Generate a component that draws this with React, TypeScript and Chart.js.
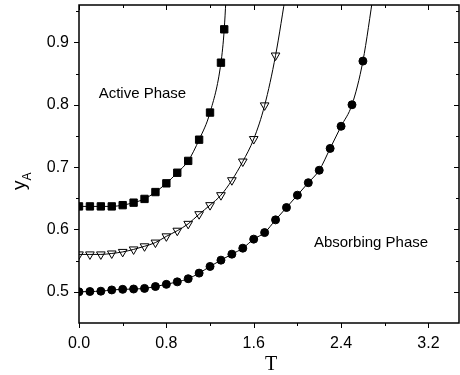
import React, { useEffect, useRef } from 'react';
import { Chart, registerables } from 'chart.js';

Chart.register(...registerables);

// Series 1: filled squares
const squareT = [0, 0.1, 0.2, 0.3, 0.4, 0.5, 0.6, 0.7, 0.8, 0.9, 1.0, 1.1, 1.2, 1.3, 1.33, 1.36];
const squareY = [0.637, 0.637, 0.637, 0.637, 0.639, 0.643, 0.649, 0.66, 0.674, 0.691, 0.71, 0.744, 0.7875, 0.8675, 0.921, 1.02];

// Series 2: open down-triangles
const triT = [0, 0.1, 0.2, 0.3, 0.4, 0.5, 0.6, 0.7, 0.8, 0.9, 1.0, 1.1, 1.2, 1.3, 1.4, 1.5, 1.6, 1.7, 1.8, 1.9];
const triY = [0.56, 0.56, 0.56, 0.5615, 0.564, 0.568, 0.573, 0.579, 0.589, 0.598, 0.609, 0.6245, 0.639, 0.655, 0.679, 0.709, 0.745, 0.799, 0.879, 0.985];

// Series 3: filled circles
const circT = [0, 0.1, 0.2, 0.3, 0.4, 0.5, 0.6, 0.7, 0.8, 0.9, 1.0, 1.1, 1.2, 1.3, 1.4, 1.5, 1.6, 1.7, 1.8, 1.9, 2.0, 2.1, 2.2, 2.3, 2.4, 2.5, 2.6, 2.7];
const circY = [0.5, 0.5005, 0.501, 0.503, 0.504, 0.5045, 0.5055, 0.5085, 0.512, 0.516, 0.521, 0.53, 0.5407, 0.5508, 0.5604, 0.57, 0.5845, 0.595, 0.6154, 0.6352, 0.655, 0.675, 0.695, 0.73, 0.7655, 0.8, 0.87, 0.9825];

const xTicks = [0, 0.8, 1.6, 2.4, 3.2];
const xMinorTicks = [0.4, 1.2, 2.0, 2.8];
const yTicks = [0.5, 0.6, 0.7, 0.8, 0.9];
const yMinorTicks = [0.55, 0.65, 0.75, 0.85, 0.95];

const X_MIN = 0;
const X_MAX = 3.48;
const Y_MIN = 0.45;
const Y_MAX = 0.96;

const phaseLabels = [
  { text: 'Active Phase', t: 0.18, y: 0.8168 },
  { text: 'Absorbing Phase', t: 2.151, y: 0.579 },
];

const SANS = "'Liberation Sans', Arial, sans-serif";
const SERIF = "'Liberation Serif', 'Times New Roman', serif";

const pts = (xs: number[], ys: number[]) => xs.map((x, i) => ({ x, y: ys[i] }));

const hideOutside = (ctx: any, r: number) => {
  const v = ctx.raw;
  return v && v.y > Y_MAX ? 0 : r;
};

const framePlugin = {
  id: 'frameAndTicks',
  afterDraw(chart: any) {
    const { ctx, chartArea, scales } = chart;
    const { left, right, top, bottom } = chartArea;
    const xs = scales.x;
    const ys = scales.y;
    ctx.save();
    ctx.strokeStyle = '#000';
    ctx.lineWidth = 1.5;
    ctx.strokeRect(left, top, right - left, bottom - top);
    ctx.lineWidth = 1;
    const MAJ = 5;
    const MIN = 3;
    ctx.beginPath();
    const xt = (v: number, len: number) => {
      const px = Math.round(xs.getPixelForValue(v)) + 0.5;
      ctx.moveTo(px, bottom);
      ctx.lineTo(px, bottom + len);
      ctx.moveTo(px, top);
      ctx.lineTo(px, top + len);
    };
    const yt = (v: number, len: number) => {
      const py = Math.round(ys.getPixelForValue(v)) + 0.5;
      ctx.moveTo(left, py);
      ctx.lineTo(left - len, py);
      ctx.moveTo(right, py);
      ctx.lineTo(right - len, py);
    };
    xTicks.forEach((v) => xt(v, MAJ));
    xMinorTicks.forEach((v) => xt(v, MIN));
    yTicks.forEach((v) => yt(v, MAJ));
    yMinorTicks.forEach((v) => yt(v, MIN));
    ctx.stroke();

    // phase labels
    ctx.fillStyle = '#000';
    ctx.font = `15px ${SANS}`;
    ctx.textAlign = 'left';
    ctx.textBaseline = 'middle';
    phaseLabels.forEach((l) => {
      ctx.fillText(l.text, xs.getPixelForValue(l.t), ys.getPixelForValue(l.y));
    });

    // x axis title
    ctx.font = `20px ${SERIF}`;
    ctx.textAlign = 'center';
    ctx.textBaseline = 'alphabetic';
    ctx.fillText('T', (left + right) / 2 + 2, 370);

    // y axis title with subscript
    ctx.save();
    ctx.translate(25, 190);
    ctx.rotate(-Math.PI / 2);
    ctx.textAlign = 'left';
    ctx.font = `19px ${SANS}`;
    ctx.fillText('y', 0, 0);
    const w = ctx.measureText('y').width;
    ctx.font = `12px ${SANS}`;
    ctx.fillText('A', w, 6);
    ctx.restore();

    ctx.restore();
  },
};

export default function App() {
  const canvasRef = useRef<HTMLCanvasElement | null>(null);

  useEffect(() => {
    const canvas = canvasRef.current;
    if (!canvas) return;
    const lineDs = (xs: number[], ys: number[]) => ({
      type: 'line' as const,
      data: pts(xs, ys),
      borderColor: '#000',
      borderWidth: 1,
      pointRadius: 0,
      showLine: true,
      cubicInterpolationMode: 'monotone' as const,
      fill: false,
    });
    const chart = new Chart(canvas, {
      type: 'scatter',
      data: {
        datasets: [
          lineDs(squareT, squareY),
          lineDs(triT, triY),
          lineDs(circT, circY),
          {
            data: pts(squareT, squareY),
            pointStyle: 'rect',
            pointRadius: (c: any) => hideOutside(c, 5.2),
            backgroundColor: '#000',
            borderColor: '#000',
            borderWidth: 1,
            showLine: false,
          },
          {
            data: pts(triT, triY),
            pointStyle: 'triangle',
            pointRotation: 180,
            pointRadius: (c: any) => hideOutside(c, 5),
            backgroundColor: '#fff',
            borderColor: '#000',
            borderWidth: 1,
            showLine: false,
          },
          {
            data: pts(circT, circY),
            pointStyle: 'circle',
            pointRadius: (c: any) => hideOutside(c, 4),
            backgroundColor: '#000',
            borderColor: '#000',
            borderWidth: 1,
            showLine: false,
          },
        ] as any,
      },
      options: {
        animation: false,
        responsive: false,
        maintainAspectRatio: false,
        events: [],
        layout: { autoPadding: false, padding: { top: 5, right: 1, left: 0, bottom: 0 } },
        plugins: { legend: { display: false }, tooltip: { enabled: false } },
        scales: {
          x: {
            type: 'linear',
            min: X_MIN,
            max: X_MAX,
            grid: { display: false, drawTicks: false },
            border: { display: false },
            ticks: {
              color: '#000',
              font: { family: SANS, size: 16 },
              padding: 11,
              maxRotation: 0,
              callback: (v: any) => Number(v).toFixed(1),
            },
            afterBuildTicks: (s: any) => {
              s.ticks = xTicks.map((value) => ({ value }));
            },
            afterFit: (s: any) => {
              s.height = 52;
              s.paddingLeft = 0;
              s.paddingRight = 0;
              s.paddingTop = 0;
              s.paddingBottom = 0;
            },
          },
          y: {
            type: 'linear',
            min: Y_MIN,
            max: Y_MAX,
            grid: { display: false, drawTicks: false },
            border: { display: false },
            ticks: {
              color: '#000',
              font: { family: SANS, size: 16 },
              padding: 10,
              callback: (v: any) => Number(v).toFixed(1),
            },
            afterBuildTicks: (s: any) => {
              s.ticks = yTicks.map((value) => ({ value }));
            },
            afterFit: (s: any) => {
              s.width = 79;
              s.paddingLeft = 0;
              s.paddingRight = 0;
              s.paddingTop = 0;
              s.paddingBottom = 0;
            },
          },
        },
      } as any,
      plugins: [framePlugin],
    });
    return () => chart.destroy();
  }, []);

  return (
    <div style={{ position: 'fixed', left: 0, top: 0, width: 460, height: 375, background: '#fff' }}>
      <canvas ref={canvasRef} width={460} height={375} />
    </div>
  );
}
